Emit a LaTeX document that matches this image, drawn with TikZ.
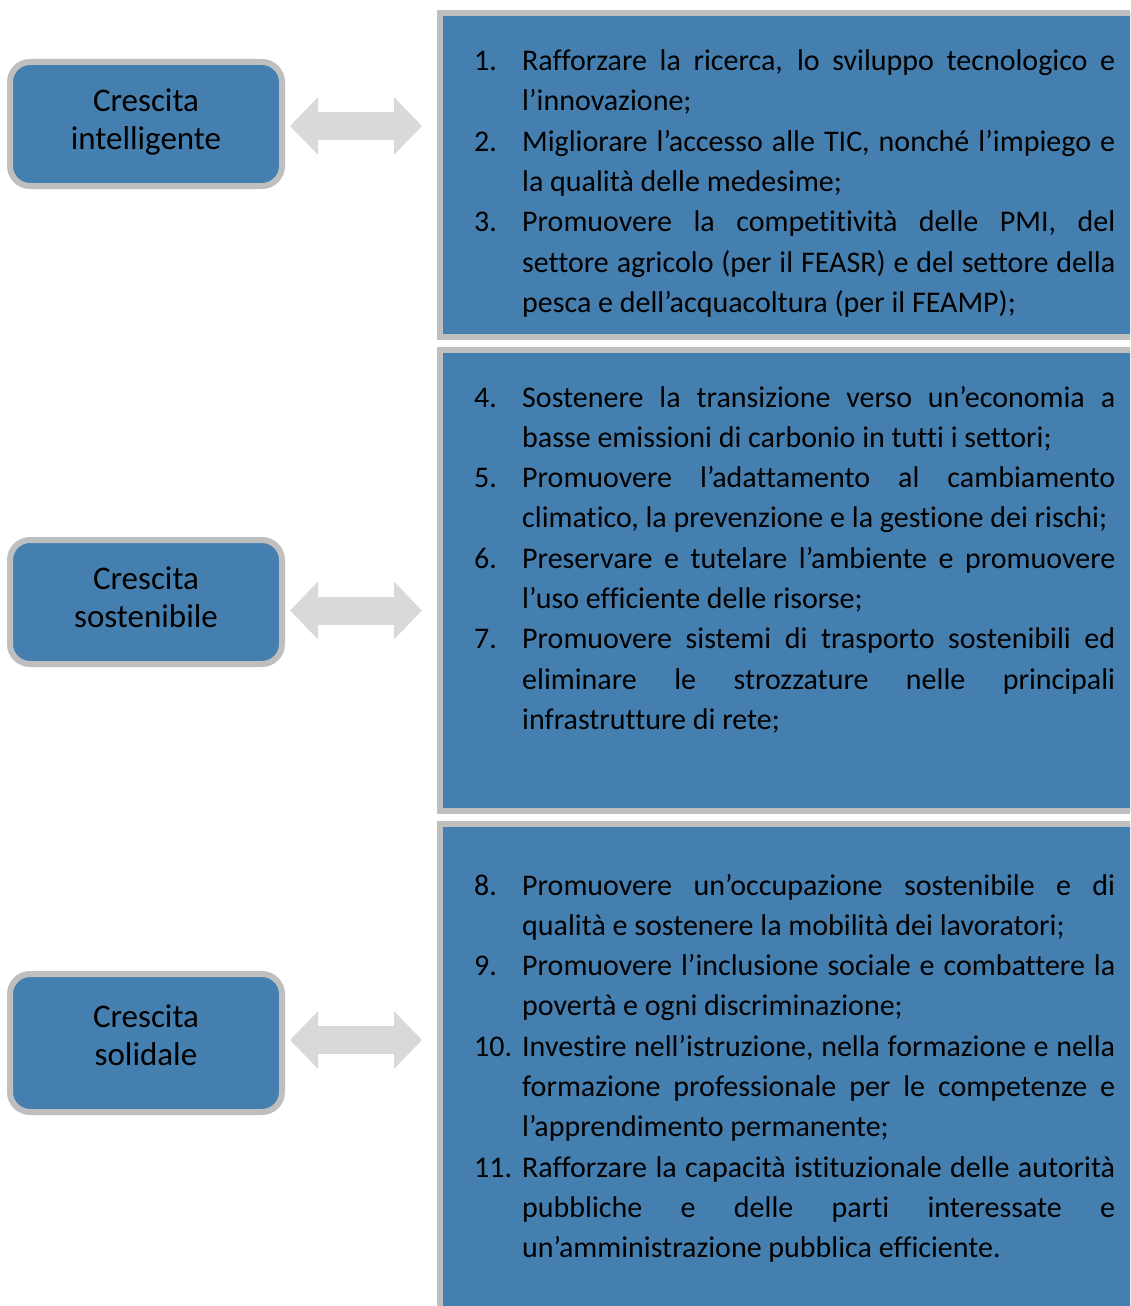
\documentclass[tikz,border=0pt]{standalone}
\usepackage{fontspec}
\usepackage{tikz}
\usetikzlibrary{arrows.meta,calc}
\setmainfont[Ligatures=NoCommon]{Carlito}
\definecolor{blu}{RGB}{68,127,175}
\definecolor{grigio}{RGB}{191,191,191}
\definecolor{freccia}{RGB}{217,217,217}
\newcommand{\voce}[2]{\noindent\hangindent=48pt\hangafter=1\makebox[48pt][l]{#1}#2\par}
\tikzset{
  crescita/.style={rectangle,rounded corners=20pt,draw=grigio,line width=6pt,fill=blu,
    minimum width=272pt,align=center,text=black,font=\fontsize{33}{38}\selectfont},
  obiettivi/.style={rectangle,draw=grigio,line width=6pt,fill=blu,minimum width=700pt},
  elenco/.style={anchor=base west,inner sep=0pt,text width=641pt,align=justify,text=black,
    font=\fontsize{30}{40.3}\selectfont},
  doppia/.style={line width=28pt,freccia,{Triangle[length=28pt,width=56pt]}-{Triangle[length=28pt,width=56pt]}}
}
\begin{document}
\begin{tikzpicture}[x=1pt,y=-1pt]
\useasboundingbox (0,0) rectangle (1130,1306);
\clip (0,0) rectangle (1130,1306);
\node[obiettivi,minimum height=324pt] (dx1) at (790,175) {};
\node[obiettivi,minimum height=461pt] (dx2) at (790,580.5) {};
\node[obiettivi,minimum height=496pt] (dx3) at (790,1072) {};
\node[crescita,minimum height=124pt] (sx1) at (146,124) {Crescita\\intelligente\\[-28pt]};
\node[crescita,minimum height=124pt] (sx2) at (146,602) {Crescita\\sostenibile\\[-28pt]};
\node[crescita,minimum height=138pt] (sx3) at (146,1043) {Crescita\\solidale\\[-22pt]};
\draw[doppia] ($(sx1.east)+(5,2)$) -- ($(sx1.east -| dx1.west)+(-15,2)$);
\draw[doppia] ($(sx2.east)+(5,8.5)$) -- ($(sx2.east -| dx2.west)+(-15,8.5)$);
\draw[doppia] ($(sx3.east)+(5,-3)$) -- ($(sx3.east -| dx3.west)+(-15,-3)$);
\node[elenco] (voci1) at (474,70.5) {%
  \voce{1.}{Rafforzare la ricerca, lo sviluppo tecnologico e\linebreak l’innovazione;}
  \voce{2.}{Migliorare l’accesso alle TIC, nonché l’impiego e\linebreak la qualità delle medesime;}
  \voce{3.}{Promuovere la competitività delle PMI, del\linebreak settore agricolo (per il FEASR) e del settore della\linebreak pesca e dell’acquacoltura (per il FEAMP);}};
\node[elenco] (voci2) at (474,407) {%
  \voce{4.}{Sostenere la transizione verso un’economia a\linebreak basse emissioni di carbonio in tutti i settori;}
  \voce{5.}{Promuovere l’adattamento al cambiamento\linebreak climatico, la prevenzione e la gestione dei rischi;}
  \voce{6.}{Preservare e tutelare l’ambiente e promuovere\linebreak l’uso efficiente delle risorse;}
  \voce{7.}{Promuovere sistemi di trasporto sostenibili ed\linebreak eliminare le strozzature nelle principali\linebreak infrastrutture di rete;}};
\node[elenco] (voci3) at (474,895) {%
  \voce{8.}{Promuovere un’occupazione sostenibile e di\linebreak qualità e sostenere la mobilità dei lavoratori;}
  \voce{9.}{Promuovere l’inclusione sociale e combattere la\linebreak povertà e ogni discriminazione;}
  \voce{10.}{Investire nell’istruzione, nella formazione e nella\linebreak formazione professionale per le competenze e\linebreak l’apprendimento permanente;}
  \voce{11.}{Rafforzare la capacità istituzionale delle autorità\linebreak pubbliche e delle parti interessate e\linebreak un’amministrazione pubblica efficiente.}};
\end{tikzpicture}
\end{document}
